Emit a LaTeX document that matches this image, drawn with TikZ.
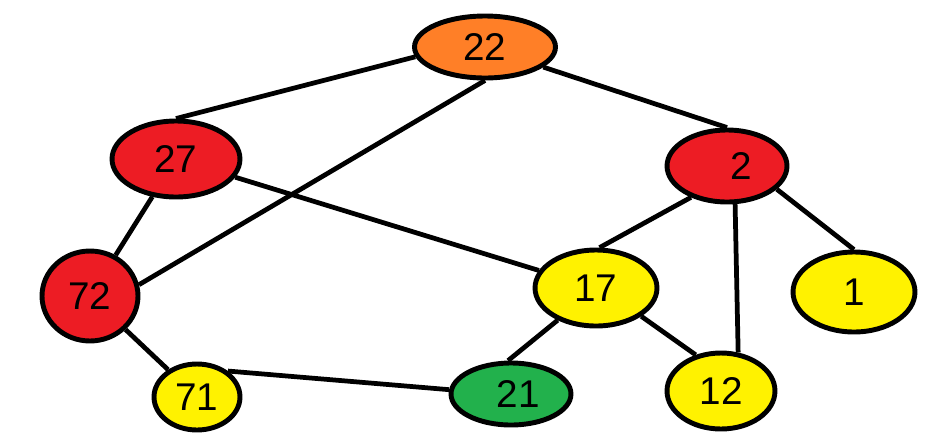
\documentclass[tikz,border=0pt]{standalone}
\usepackage{fontspec}
\setmainfont{Liberation Sans}
\usetikzlibrary{shapes.geometric}
\definecolor{PaintOrange}{RGB}{255,127,39}
\definecolor{PaintRed}{RGB}{237,28,36}
\definecolor{PaintYellow}{RGB}{255,242,0}
\definecolor{PaintGreen}{RGB}{34,177,76}
\tikzset{
	vtx/.style={ellipse,draw=black,line width=2.8pt,inner sep=0pt,
		font=\fontsize{22}{22}\selectfont},
	edge/.style={draw=black,line width=2.7pt},
}

\begin{document}
\begin{tikzpicture}[x=0.02cm,y=-0.02cm]
	\useasboundingbox (0,0) rectangle (940,440);
	\node[vtx,fill=PaintOrange,minimum width=2.82cm,minimum height=1.24cm] (n22) at (485,47) {22};
	\node[vtx,fill=PaintRed,minimum width=2.56cm,minimum height=1.52cm] (n27) at (176,159) {27};
	\node[vtx,fill=PaintRed,minimum width=2.4cm,minimum height=1.44cm] (n2) at (727,166) {\hspace{16pt}2};
	\node[vtx,fill=PaintRed,minimum width=1.92cm,minimum height=1.8cm] (n72) at (90,296) {72};
	\node[vtx,fill=PaintYellow,minimum width=2.44cm,minimum height=1.52cm] (n17) at (596,288) {17};
	\node[vtx,fill=PaintYellow,minimum width=2.44cm,minimum height=1.6cm] (n1) at (854,292) {1};
	\node[vtx,fill=PaintYellow,minimum width=1.72cm,minimum height=1.32cm] (n71) at (197,397) {71};
	\node[vtx,fill=PaintGreen,minimum width=2.4cm,minimum height=1.24cm] (n21) at (511,394) {\hspace{8pt}21};
	\node[vtx,fill=PaintYellow,minimum width=2.16cm,minimum height=1.52cm] (n12) at (721,391) {12};
	\foreach \a/\b in {n22.188/n27.north,n22.south/n72.13,n22.341/n2.north,
		n27/n72,n27/n17,n2.221/n17.85,n2.282/n12.66,n2.335/n1.north,
		n72/n71,n71.40/n21.176,n17.220/n21.95,n17.-32/n12.125}
	\draw[edge] (\a)--(\b);
\end{tikzpicture}
\end{document}
